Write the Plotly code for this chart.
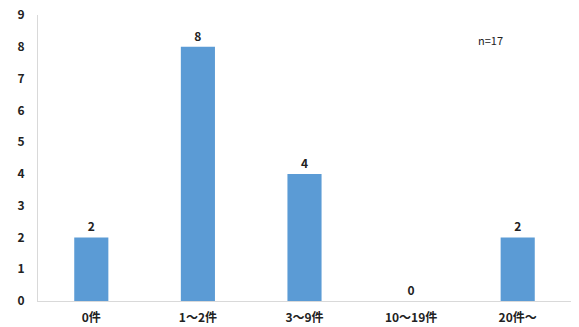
import plotly.graph_objects as go

categories = ["0件", "1～2件", "3～9件", "10～19件", "20件～"]
values = [2, 8, 4, 0, 2]
y_ticks = [0, 1, 2, 3, 4, 5, 6, 7, 8, 9]
note = "n=17"

font_family = "Noto Sans CJK JP, Noto Sans, sans-serif"

fig = go.Figure()
fig.add_trace(go.Bar(
    x=categories,
    y=values,
    marker=dict(color="#5B9BD5", line=dict(width=0)),
    text=[str(v) for v in values],
    textposition="outside",
    cliponaxis=False,
    textfont=dict(family=font_family, size=12, color="#222222", weight="bold"),
))

plot_l, plot_r, plot_t, plot_b = 38, 8, 15, 26
W, H = 579, 327
plot_w = W - plot_l - plot_r
plot_h = H - plot_t - plot_b

fig.update_layout(
    width=W, height=H,
    margin=dict(l=plot_l, r=plot_r, t=plot_t, b=plot_b),
    paper_bgcolor="white",
    plot_bgcolor="white",
    bargap=0.68,
    showlegend=False,
    font=dict(family=font_family, size=12, color="#222222"),
    xaxis=dict(
        showline=True, linecolor="#D9D9D9", linewidth=1,
        showgrid=False, ticks="", automargin=False,
        tickfont=dict(family=font_family, size=12, color="#222222", weight="bold"),
        ticklabelstandoff=6,
    ),
    yaxis=dict(
        range=[0, 9], tickvals=y_ticks,
        showline=True, linecolor="#D9D9D9", linewidth=1,
        showgrid=False, zeroline=False, ticks="", automargin=False,
        tickfont=dict(family=font_family, size=12, color="#222222", weight="bold"),
        ticklabelstandoff=10,
    ),
    annotations=[dict(
        text=note,
        x=(490 - plot_l) / plot_w,
        y=(H - plot_b - 40) / plot_h,
        xref="paper", yref="paper", showarrow=False,
        xanchor="center", yanchor="middle",
        font=dict(family=font_family, size=11, color="#222222"),
    )],
)

fig.write_html("out.html")
